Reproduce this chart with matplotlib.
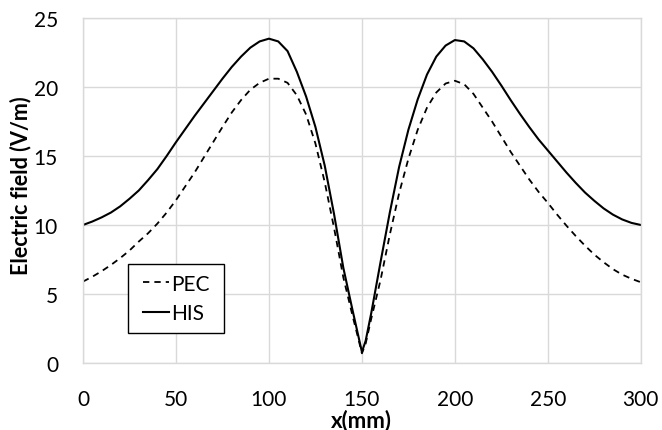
import matplotlib
matplotlib.use('Agg')
import matplotlib.pyplot as plt
from matplotlib.patches import Rectangle

plt.rcParams['font.family'] = ['Lato', 'DejaVu Sans']

# positions along the line (mm)
x_mm = [0, 5, 10, 15, 20, 25, 30, 35, 40, 45, 50, 55, 60, 65, 70, 75,
        80, 85, 90, 95, 100, 105, 110, 115, 120, 125, 130, 135, 140, 145,
        148, 150, 152, 155, 160, 165, 170, 175, 180, 185, 190, 195, 200,
        205, 210, 215, 220, 225, 230, 235, 240, 245, 250, 255, 260, 265,
        270, 275, 280, 285, 290, 295, 300]

# PEC ground plane (V/m)
pec = [5.9, 6.25, 6.65, 7.1, 7.6, 8.15, 8.8, 9.4, 10.1, 10.9, 11.8, 12.8,
       13.8, 14.9, 16.0, 17.1, 18.15, 19.05, 19.8, 20.3, 20.6, 20.6, 20.3,
       19.4, 18.0, 15.9, 13.1, 9.8, 6.2, 3.4,
       1.8, 0.7, 1.4, 3.2, 6.0, 9.3, 12.3, 14.8, 16.9, 18.5, 19.6, 20.25,
       20.45, 20.2, 19.5, 18.5, 17.5, 16.4, 15.3, 14.3, 13.3, 12.4, 11.6,
       10.75, 9.95, 9.2, 8.5, 7.85, 7.3, 6.8, 6.4, 6.1, 5.85]

# HIS ground plane (V/m)
his = [10.0, 10.25, 10.55, 10.9, 11.35, 11.9, 12.5, 13.25, 14.05, 15.0,
       16.0, 16.95, 17.9, 18.8, 19.7, 20.6, 21.45, 22.2, 22.85, 23.3, 23.5,
       23.3, 22.6, 21.1, 19.3, 17.1, 14.3, 10.8, 6.9, 3.8,
       2.0, 0.8, 1.6, 3.6, 7.3, 10.9, 14.2, 16.9, 19.1, 20.9, 22.2, 23.0,
       23.4, 23.3, 22.8, 22.0, 21.1, 20.1, 19.05, 18.05, 17.1, 16.2, 15.4,
       14.6, 13.8, 13.05, 12.35, 11.75, 11.2, 10.75, 10.4, 10.15, 10.0]

x_ticks = [0, 50, 100, 150, 200, 250, 300]
y_ticks = [0, 5, 10, 15, 20, 25]

fig = plt.figure(figsize=(6.62, 4.31), dpi=100)
ax = fig.add_axes([0.1254, 0.1555, 0.8426, 0.8005])

ax.plot(x_mm, pec, color='black', lw=1.3, ls=(0, (3.5, 2.8)), label='PEC')
ax.plot(x_mm, his, color='black', lw=1.5, label='HIS')

ax.set_xlim(0, 300)
ax.set_ylim(0, 25)
ax.set_xticks(x_ticks)
ax.set_yticks(y_ticks)
ax.tick_params(length=0, labelsize=15, colors='black')
ax.tick_params(axis='x', pad=19)
ax.tick_params(axis='y', pad=18)
ax.grid(True, color='#d9d9d9', lw=1)
ax.set_axisbelow(True)
for s in ax.spines.values():
    s.set_color('#d9d9d9')
    s.set_linewidth(1)

ax.set_xlabel('x(mm)', fontsize=16, fontweight='bold')
ax.xaxis.set_label_coords(0.5, -0.132)
ax.set_ylabel('Electric field (V/m)', fontsize=15.5, fontweight='bold')
ax.yaxis.set_label_coords(-0.092, 0.516)

# legend box drawn by hand so its padding matches the reference
ax.add_patch(Rectangle((0.081, 0.087), 0.172, 0.2, transform=ax.transAxes,
                       facecolor='white', edgecolor='black', lw=1, zorder=5))
leg = ax.legend(loc='center', bbox_to_anchor=(0.167, 0.187), frameon=False,
                fontsize=15, handlelength=1.25, handletextpad=0.1,
                labelspacing=0.45, borderpad=0, borderaxespad=0)
leg.set_zorder(6)

fig.savefig('out.png', dpi=100)
